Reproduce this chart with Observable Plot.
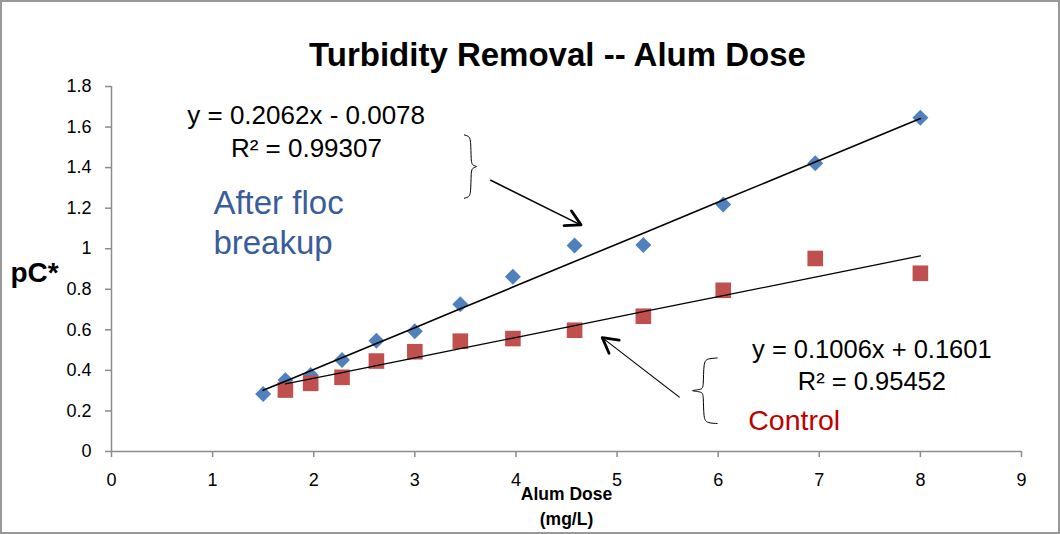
<!DOCTYPE html>
<html>
<head>
<meta charset="utf-8">
<script src="https://cdn.jsdelivr.net/npm/d3@7"></script>
<script src="https://cdn.jsdelivr.net/npm/@observablehq/plot@0.6"></script>
<style>
  html, body { margin: 0; padding: 0; background: #fff; }
  #chart { width: 1060px; height: 534px; position: relative; }
  #chart svg { display: block; outline: 2px solid #999; outline-offset: -2px; }
</style>
</head>
<body>
<div id="chart"></div>
<script>
// ---- data ----
const doses = [1.5, 1.72, 1.97, 2.28, 2.62, 3.0, 3.45, 3.97, 4.58, 5.26, 6.05, 6.96, 8.0];
const afterFloc = [0.284, 0.352, 0.377, 0.451, 0.546, 0.593, 0.726, 0.862, 1.016, 1.018, 1.218, 1.421, 1.646];
const controlDoses = [1.72, 1.97, 2.28, 2.62, 3.0, 3.45, 3.97, 4.58, 5.26, 6.05, 6.96, 8.0];
const control = [0.303, 0.336, 0.366, 0.446, 0.492, 0.544, 0.557, 0.598, 0.667, 0.795, 0.952, 0.879];
const afterFit = [0.2062, -0.0078];   // slope, intercept
const controlFit = [0.1006, 0.1601];
const xTicks = [0, 1, 2, 3, 4, 5, 6, 7, 8, 9];
const yTicks = [0, 0.2, 0.4, 0.6, 0.8, 1, 1.2, 1.4, 1.6, 1.8];
const title = "Turbidity Removal -- Alum Dose";
const yLabel = "pC*";
const xLabel = ["Alum Dose", "(mg/L)"];
const eqAfter = ["y = 0.2062x - 0.0078", "R² = 0.99307"];
const eqControl = ["y = 0.1006x + 0.1601", "R² = 0.95452"];
const afterName = ["After floc", "breakup"];
const controlName = "Control";

// ---- tables built from the arrays ----
const afterData = doses.map((d, i) => ({x: d, y: afterFloc[i]}));
const controlData = controlDoses.map((d, i) => ({x: d, y: control[i]}));
const afterLine = doses.map(d => ({x: d, y: afterFit[0] * d + afterFit[1]}));
const controlLine = controlDoses.map(d => ({x: d, y: controlFit[0] * d + controlFit[1]}));

// annotation anchors (data space)
const braceTop = [[3.49,1.561],[3.53,1.556],[3.555,1.54],[3.555,1.43],[3.57,1.41],[3.63,1.405],[3.57,1.40],[3.555,1.38],[3.555,1.27],[3.53,1.254],[3.49,1.249]].map(([x,y])=>({x,y}));
const braceBot = [[5.99,0.461],[5.89,0.458],[5.855,0.44],[5.855,0.32],[5.84,0.305],[5.70,0.300],[5.84,0.295],[5.855,0.28],[5.855,0.16],[5.89,0.141],[5.99,0.138]].map(([x,y])=>({x,y}));
const arrows = [
  {x1: 3.746, y1: 1.339, x2: 4.649, y2: 1.115, w: 1.5},
  {x1: 5.619, y1: 0.267, x2: 4.859, y2: 0.559, w: 1.2}
];

const F = "Liberation Sans, Arial, sans-serif";
const fmt = d3.format("~g");

// bold open arrowheads drawn with the chart's own scales
function arrowHeads(index, scales) {
  const g = d3.create("svg:g")
    .attr("fill", "none").attr("stroke", "#000").attr("stroke-width", 2.8)
    .attr("stroke-linecap", "round").attr("stroke-linejoin", "round");
  const L = 17, h = 29 * Math.PI / 180;
  for (const a of arrows) {
    const x1 = scales.x(a.x1), y1 = scales.y(a.y1), x2 = scales.x(a.x2), y2 = scales.y(a.y2);
    const ang = Math.atan2(y1 - y2, x1 - x2);
    const p1 = [x2 + L * Math.cos(ang + h), y2 + L * Math.sin(ang + h)];
    const p2 = [x2 + L * Math.cos(ang - h), y2 + L * Math.sin(ang - h)];
    g.append("path").attr("d", `M${p1[0]},${p1[1]}L${x2},${y2}L${p2[0]},${p2[1]}`);
  }
  return g.node();
}

const chart = Plot.plot({
  width: 1060,
  height: 534,
  marginLeft: 111,
  marginRight: 39,
  marginTop: 86,
  marginBottom: 83,
  style: {fontFamily: F, fontSize: "18px", background: "#fff", color: "#000", overflow: "visible"},
  x: {domain: [0, 9], label: null},
  y: {domain: [0, 1.8], label: null},
  marks: [
    Plot.axisY({ticks: yTicks, tickSize: 6, tickPadding: 14, stroke: "#8c8c8c", strokeWidth: 1.5, fill: "#000", fontSize: 18, tickFormat: fmt, label: null}),
    Plot.axisX({ticks: xTicks, tickSize: 6, tickPadding: 16, stroke: "#8c8c8c", strokeWidth: 1.5, fill: "#000", fontSize: 18, tickFormat: fmt, label: null}),
    Plot.ruleX([0], {stroke: "#8c8c8c", strokeWidth: 1.5}),
    Plot.ruleY([0], {stroke: "#8c8c8c", strokeWidth: 1.5}),
    Plot.dot(afterData, {x: "x", y: "y", symbol: "diamond2", r: 7.2, fill: "#4F81BD", stroke: null}),
    Plot.dot(controlData, {x: "x", y: "y", symbol: "square", r: 8.8, fill: "#C0504D", stroke: null}),
    Plot.line(afterLine, {x: "x", y: "y", stroke: "#000", strokeWidth: 1.6}),
    Plot.line(controlLine, {x: "x", y: "y", stroke: "#000", strokeWidth: 1.3}),
    Plot.line(braceTop, {x: "x", y: "y", stroke: "#000", strokeWidth: 1, curve: "basis"}),
    Plot.line(braceBot, {x: "x", y: "y", stroke: "#000", strokeWidth: 1, curve: "basis"}),
    Plot.link(arrows, {x1: "x1", y1: "y1", x2: "x2", y2: "y2", stroke: "#000", strokeWidth: "w"}),
    arrowHeads,
    // equations
    Plot.text([eqAfter[0]], {x: 1.925, y: 1.656, text: d => d, fontSize: 26, fontFamily: F, fill: "#000"}),
    Plot.text([eqAfter[1]], {x: 1.928, y: 1.492, text: d => d, fontSize: 26, fontFamily: F, fill: "#000"}),
    Plot.text([eqControl[0]], {x: 7.52, y: 0.502, text: d => d, fontSize: 25.5, fontFamily: F, fill: "#000"}),
    Plot.text([eqControl[1]], {x: 7.52, y: 0.346, text: d => d, fontSize: 25.5, fontFamily: F, fill: "#000"}),
    // series names
    Plot.text([afterName[0]], {x: 1.008, y: 1.221, text: d => d, textAnchor: "start", fontSize: 33, fontFamily: F, fill: "#3A5C9B"}),
    Plot.text([afterName[1]], {x: 1.008, y: 1.025, text: d => d, textAnchor: "start", fontSize: 33, fontFamily: F, fill: "#3A5C9B"}),
    Plot.text([controlName], {x: 6.297, y: 0.149, text: d => d, textAnchor: "start", fontSize: 28.5, fontFamily: F, fill: "#C00000"}),
    // title and axis labels
    Plot.text([title], {frameAnchor: "top", lineAnchor: "middle", dx: -9, dy: -31, text: d => d, fontSize: 33, fontWeight: "bold", fontFamily: F, fill: "#000"}),
    Plot.text([yLabel], {frameAnchor: "left", textAnchor: "start", lineAnchor: "middle", dx: -101, dy: 4, text: d => d, fontSize: 28, fontWeight: "bold", fontFamily: F, fill: "#000"}),
    Plot.text([xLabel[0]], {frameAnchor: "bottom", lineAnchor: "middle", dy: 43, text: d => d, fontSize: 17.5, fontWeight: "bold", fontFamily: F, fill: "#000"}),
    Plot.text([xLabel[1]], {frameAnchor: "bottom", lineAnchor: "middle", dy: 68, text: d => d, fontSize: 17.5, fontWeight: "bold", fontFamily: F, fill: "#000"})
  ]
});
document.getElementById("chart").appendChild(chart);
</script>
</body>
</html>
